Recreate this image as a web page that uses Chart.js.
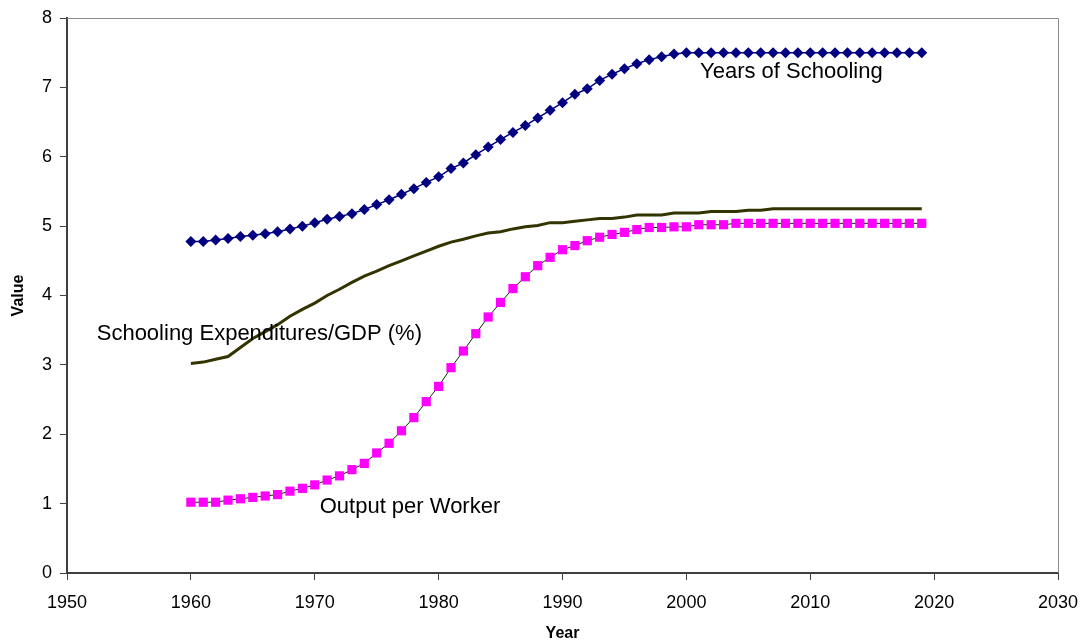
<!DOCTYPE html>
<html>
<head>
<meta charset="utf-8">
<script src="https://cdn.jsdelivr.net/npm/chart.js@4/dist/chart.umd.min.js"></script>
<style>
  html, body { margin: 0; padding: 0; background: #ffffff; }
  #wrap { width: 1082px; height: 643px; }
</style>
</head>
<body>
<div id="wrap"><canvas id="c" width="1082" height="643"></canvas></div>
<script>
const years = [1960,1961,1962,1963,1964,1965,1966,1967,1968,1969,
               1970,1971,1972,1973,1974,1975,1976,1977,1978,1979,
               1980,1981,1982,1983,1984,1985,1986,1987,1988,1989,
               1990,1991,1992,1993,1994,1995,1996,1997,1998,1999,
               2000,2001,2002,2003,2004,2005,2006,2007,2008,2009,
               2010,2011,2012,2013,2014,2015,2016,2017,2018,2019];

const yearsOfSchooling = [4.78,4.78,4.80,4.82,4.85,4.87,4.89,4.92,4.96,5.00,
                          5.05,5.10,5.14,5.18,5.24,5.31,5.38,5.46,5.54,5.63,
                          5.71,5.83,5.91,6.03,6.14,6.25,6.35,6.45,6.56,6.67,
                          6.78,6.90,6.98,7.10,7.19,7.27,7.34,7.40,7.44,7.48,
                          7.50,7.50,7.50,7.50,7.50,7.50,7.50,7.50,7.50,7.50,
                          7.50,7.50,7.50,7.50,7.50,7.50,7.50,7.50,7.50,7.50];

const schoolingExpenditures = [3.02,3.04,3.08,3.12,3.25,3.38,3.48,3.58,3.70,3.80,
                               3.89,4.00,4.09,4.19,4.28,4.35,4.43,4.50,4.57,4.64,
                               4.71,4.77,4.81,4.86,4.90,4.92,4.96,4.99,5.01,5.05,
                               5.05,5.07,5.09,5.11,5.11,5.13,5.16,5.16,5.16,5.19,
                               5.19,5.19,5.21,5.21,5.21,5.23,5.23,5.25,5.25,5.25,
                               5.25,5.25,5.25,5.25,5.25,5.25,5.25,5.25,5.25,5.25];

const outputPerWorker = [1.02,1.02,1.02,1.05,1.07,1.09,1.11,1.13,1.18,1.22,
                         1.27,1.34,1.40,1.49,1.58,1.73,1.87,2.05,2.24,2.47,
                         2.69,2.96,3.20,3.45,3.69,3.90,4.10,4.27,4.43,4.55,
                         4.66,4.72,4.79,4.84,4.88,4.91,4.95,4.98,4.98,4.99,
                         4.99,5.02,5.02,5.02,5.04,5.04,5.04,5.04,5.04,5.04,
                         5.04,5.04,5.04,5.04,5.04,5.04,5.04,5.04,5.04,5.04];

const seriesLabels = ['Years of Schooling', 'Schooling Expenditures/GDP (%)', 'Output per Worker'];
const xTicks = [1950, 1960, 1970, 1980, 1990, 2000, 2010, 2020, 2030];
const yTicks = [0, 1, 2, 3, 4, 5, 6, 7, 8];

function pts(vals) { return years.map((yr, i) => ({ x: yr, y: vals[i] })); }

const FONT = "'Liberation Sans', Arial, sans-serif";

// in-chart labels, anchored in data coordinates (year, value), left-aligned at baseline
const labelAnchors = [
  { text: seriesLabels[0], x: 2001.1, y: 7.13 },
  { text: seriesLabels[1], x: 1952.4, y: 3.365 },
  { text: seriesLabels[2], x: 1970.4, y: 0.86 }
];

const framePlugin = {
  id: 'frame',
  afterDatasetsDraw(chart) {
    const { ctx, chartArea: a } = chart;
    ctx.save();
    ctx.strokeStyle = '#8a8a8a';
    ctx.lineWidth = 1;
    ctx.beginPath();
    ctx.moveTo(a.left, a.top + 0.5);
    ctx.lineTo(a.right + 0.5, a.top + 0.5);
    ctx.lineTo(a.right + 0.5, a.bottom);
    ctx.stroke();
    ctx.restore();
  },
  afterDraw(chart) {
    const { ctx } = chart;
    const xs = chart.scales.x, ys = chart.scales.y;
    ctx.save();
    ctx.fillStyle = '#000000';
    ctx.font = '22px ' + FONT;
    ctx.textAlign = 'left';
    ctx.textBaseline = 'alphabetic';
    labelAnchors.forEach(l => {
      ctx.fillText(l.text, xs.getPixelForValue(l.x), ys.getPixelForValue(l.y));
    });
    ctx.restore();
  }
};

new Chart(document.getElementById('c'), {
  type: 'line',
  data: {
    datasets: [
      {
        label: seriesLabels[0],
        data: pts(yearsOfSchooling),
        borderColor: '#000080',
        backgroundColor: '#000080',
        borderWidth: 1.5,
        pointStyle: 'rectRot',
        pointRadius: 5.5,
        pointBorderWidth: 0,
        pointBackgroundColor: '#000080',
        tension: 0
      },
      {
        label: seriesLabels[1],
        data: pts(schoolingExpenditures),
        borderColor: '#333300',
        borderWidth: 3,
        pointRadius: 0,
        tension: 0
      },
      {
        label: seriesLabels[2],
        data: pts(outputPerWorker),
        borderColor: '#0d2a00',
        backgroundColor: '#ff00ff',
        borderWidth: 1,
        pointStyle: 'rect',
        pointRadius: 6.5,
        pointBorderWidth: 0,
        pointBackgroundColor: '#ff00ff',
        tension: 0
      }
    ]
  },
  options: {
    responsive: false,
    animation: false,
    devicePixelRatio: 1,
    layout: { padding: { top: 18, right: 24, left: 0, bottom: 0 } },
    plugins: {
      legend: { display: false },
      tooltip: { enabled: false }
    },
    scales: {
      x: {
        type: 'linear',
        min: xTicks[0],
        max: xTicks[xTicks.length - 1],
        afterBuildTicks(scale) { scale.ticks = xTicks.map(v => ({ value: v })); },
        afterFit(scale) { scale.height = 70; scale.paddingLeft = 0; scale.paddingRight = 0; },
        ticks: {
          color: '#000000',
          font: { family: FONT, size: 18 },
          padding: 12,
          maxRotation: 0,
          callback: v => String(v)
        },
        grid: { drawOnChartArea: false, drawTicks: true, tickLength: 7, color: '#404040', lineWidth: 1 },
        border: { display: true, color: '#404040', width: 2 },
        title: {
          display: true,
          text: 'Year',
          color: '#000000',
          font: { family: FONT, size: 16, weight: 'bold' },
          padding: { top: 4, bottom: 0 }
        }
      },
      y: {
        type: 'linear',
        min: yTicks[0],
        max: yTicks[yTicks.length - 1],
        afterBuildTicks(scale) { scale.ticks = yTicks.map(v => ({ value: v })); },
        afterFit(scale) { scale.width = 67; scale.paddingTop = 0; scale.paddingBottom = 0; },
        ticks: {
          color: '#000000',
          font: { family: FONT, size: 18 },
          padding: 8,
          callback: v => String(v)
        },
        grid: { drawOnChartArea: false, drawTicks: true, tickLength: 7, color: '#404040', lineWidth: 1 },
        border: { display: true, color: '#404040', width: 2 },
        title: {
          display: true,
          text: 'Value',
          color: '#000000',
          font: { family: FONT, size: 16, weight: 'bold' },
          padding: { top: 9, bottom: 9 }
        }
      }
    }
  },
  plugins: [framePlugin]
});
</script>
</body>
</html>
